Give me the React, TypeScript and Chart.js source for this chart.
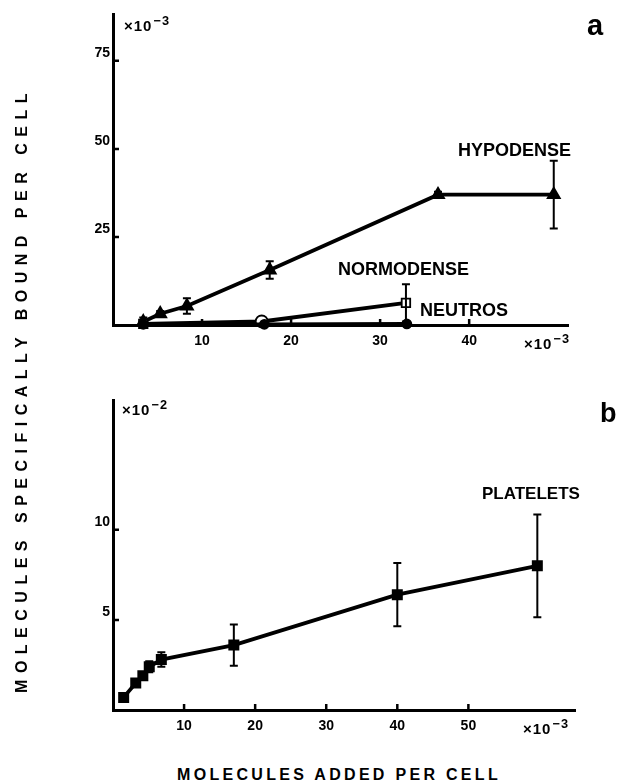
import React, { useEffect, useRef } from "react";
import { Chart, registerables } from "chart.js";
Chart.register(...registerables);

// ---- Data (panel a) ----
const hypoX = [3.4, 5.3, 8.3, 17.6, 36.5, 49.5];
const hypoY = [0.9, 3.2, 5.4, 15.6, 37, 37];
const hypoErr = [1.2, 0.8, 2.2, 2.5, 0.8, 9.6];

const normoX = [3.4, 16.7, 32.9];
const normoY = [0.3, 1.0, 6.3];
const normoErr = [0, 0, 5.3];

const neutroX = [3.4, 17.0, 33.0];
const neutroY = [0.2, 0.2, 0.3];
const neutroErr = [0, 0, 0];

// ---- Data (panel b) ----
const plateletX = [1.5, 3.2, 4.2, 5.1, 6.8, 17, 40, 59.7];
const plateletY = [0.7, 1.5, 1.9, 2.4, 2.8, 3.6, 6.4, 8.0];
const plateletErr = [0.1, 0.15, 0.2, 0.3, 0.4, 1.15, 1.75, 2.85];

// ---- Ticks ----
const topXTicks = [10, 20, 30, 40];
const topYTicks = [25, 50, 75];
const bottomXTicks = [10, 20, 30, 40, 50];
const bottomYTicks = [5, 10];

const FONT = "'Liberation Sans', Arial, Helvetica, sans-serif";

const toPts = (xs: number[], ys: number[]) => xs.map((x, i) => ({ x, y: ys[i] }));

const errorBarPlugin = {
  id: "errbars",
  afterDatasetsDraw(chart: any) {
    const { ctx, scales } = chart;
    const x = scales.x, y = scales.y;
    chart.data.datasets.forEach((ds: any) => {
      if (!ds.errors) return;
      ctx.save();
      ctx.strokeStyle = "#000";
      ctx.lineWidth = 2;
      ds.data.forEach((p: any, i: number) => {
        const e = ds.errors[i];
        if (!e) return;
        const px = x.getPixelForValue(p.x);
        const y1 = y.getPixelForValue(Math.max(p.y - e, y.min));
        const y2 = y.getPixelForValue(p.y + e);
        ctx.beginPath();
        ctx.moveTo(px, y1);
        ctx.lineTo(px, y2);
        ctx.moveTo(px - 4, y2);
        ctx.lineTo(px + 4, y2);
        if (p.y - e > y.min) {
          ctx.moveTo(px - 4, y1);
          ctx.lineTo(px + 4, y1);
        }
        ctx.stroke();
      });
      ctx.restore();
    });
  },
};

const inTickPlugin = {
  id: "inTicks",
  afterDraw(chart: any, _args: any, opts: any) {
    const { ctx, chartArea, scales } = chart;
    const x = scales.x, y = scales.y;
    ctx.save();
    ctx.strokeStyle = "#000";
    ctx.lineWidth = 2.5;
    ctx.beginPath();
    (opts.x || []).forEach((v: number) => {
      const px = x.getPixelForValue(v);
      ctx.moveTo(px, chartArea.bottom);
      ctx.lineTo(px, chartArea.bottom - 6);
    });
    (opts.y || []).forEach((v: number) => {
      const py = y.getPixelForValue(v);
      ctx.moveTo(chartArea.left, py);
      ctx.lineTo(chartArea.left + 6, py);
    });
    ctx.stroke();
    ctx.restore();
  },
};

function makeConfig(
  datasets: any[],
  xMax: number,
  yMax: number,
  xTicks: number[],
  yTicks: number[],
  padding: any,
  xHeight: number
): any {
  const tickFont = { family: FONT, size: 14, weight: "bold" as const };
  return {
    type: "scatter",
    data: { datasets },
    options: {
      responsive: false,
      animation: false,
      devicePixelRatio: 1,
      layout: { padding },
      plugins: {
        legend: { display: false },
        tooltip: { enabled: false },
        title: { display: false },
        inTicks: { x: xTicks, y: yTicks },
      },
      scales: {
        x: {
          type: "linear",
          min: 0,
          max: xMax,
          afterBuildTicks: (s: any) => {
            s.ticks = xTicks.map((v) => ({ value: v }));
          },
          afterFit: (s: any) => {
            s.height = xHeight;
          },
          ticks: {
            color: "#000",
            font: tickFont,
            padding: 8,
            maxRotation: 0,
            autoSkip: false,
            callback: (v: any) => String(v),
          },
          grid: { display: false, drawTicks: false },
          border: { display: true, color: "#000", width: 3 },
        },
        y: {
          type: "linear",
          min: 0,
          max: yMax,
          afterBuildTicks: (s: any) => {
            s.ticks = yTicks.map((v) => ({ value: v }));
          },
          afterFit: (s: any) => {
            s.width = 113;
          },
          ticks: {
            color: "#000",
            font: tickFont,
            padding: 3,
            labelOffset: -8,
            autoSkip: false,
            callback: (v: any) => String(v),
          },
          grid: { display: false, drawTicks: false },
          border: { display: true, color: "#000", width: 3 },
        },
      },
    },
    plugins: [errorBarPlugin, inTickPlugin],
  };
}

const lineBase = {
  showLine: true,
  borderColor: "#000",
  borderWidth: 3.8,
  tension: 0,
  clip: false,
  pointBorderColor: "#000",
  pointBorderWidth: 1.8,
};

export default function App() {
  const topRef = useRef<HTMLCanvasElement>(null);
  const botRef = useRef<HTMLCanvasElement>(null);

  useEffect(() => {
    const topDatasets = [
      {
        ...lineBase,
        label: "NEUTROS",
        data: toPts(neutroX, neutroY),
        errors: neutroErr,
        pointStyle: "circle",
        pointRadius: 4.5,
        pointBackgroundColor: "#000",
      },
      {
        ...lineBase,
        label: "NORMODENSE",
        data: toPts(normoX, normoY),
        errors: normoErr,
        pointStyle: ["rect", "circle", "rect"],
        pointRadius: 6,
        pointBackgroundColor: "#fff",
      },
      {
        ...lineBase,
        label: "HYPODENSE",
        data: toPts(hypoX, hypoY),
        errors: hypoErr,
        pointStyle: "triangle",
        pointRadius: 7,
        pointBackgroundColor: "#000",
      },
    ];
    const botDatasets = [
      {
        ...lineBase,
        label: "PLATELETS",
        data: toPts(plateletX, plateletY),
        errors: plateletErr,
        pointStyle: "rect",
        pointRadius: 6.5,
        pointBackgroundColor: "#000",
      },
    ];
    const c1 = new Chart(
      topRef.current as HTMLCanvasElement,
      makeConfig(topDatasets, 51.1, 88.3, topXTicks, topYTicks, { left: 0, right: 50, top: 14, bottom: 0 }, 35)
    );
    const c2 = new Chart(
      botRef.current as HTMLCanvasElement,
      makeConfig(botDatasets, 65, 17.2, bottomXTicks, bottomYTicks, { left: 0, right: 43, top: 20, bottom: 0 }, 30)
    );
    return () => {
      c1.destroy();
      c2.destroy();
    };
  }, []);

  const txt = (extra: React.CSSProperties): React.CSSProperties => ({
    position: "absolute",
    fontFamily: FONT,
    fontWeight: "bold",
    color: "#000",
    lineHeight: 1,
    whiteSpace: "nowrap",
    ...extra,
  });
  const sup: React.CSSProperties = { fontSize: "0.85em", verticalAlign: "0.45em", marginLeft: 1 };

  return (
    <div style={{ position: "absolute", left: 0, top: 0, width: 618, height: 783, background: "#fff", overflow: "hidden" }}>
      <canvas ref={topRef} width={618} height={360} style={{ position: "absolute", left: 0, top: 0, width: 618, height: 360 }} />
      <canvas ref={botRef} width={618} height={360} style={{ position: "absolute", left: 0, top: 380, width: 618, height: 360 }} />

      {/* multipliers */}
      <div style={txt({ left: 124, top: 15, fontSize: 15, letterSpacing: 1 })}>×10<span style={sup}>−3</span></div>
      <div style={txt({ left: 524, top: 333, fontSize: 15, letterSpacing: 1 })}>×10<span style={sup}>−3</span></div>
      <div style={txt({ left: 122, top: 399, fontSize: 15, letterSpacing: 1 })}>×10<span style={sup}>−2</span></div>
      <div style={txt({ left: 523, top: 718, fontSize: 15, letterSpacing: 1 })}>×10<span style={sup}>−3</span></div>

      {/* series labels */}
      <div style={txt({ left: 458, top: 141, fontSize: 18 })}>HYPODENSE</div>
      <div style={txt({ left: 338, top: 260, fontSize: 18 })}>NORMODENSE</div>
      <div style={txt({ left: 420, top: 301, fontSize: 18 })}>NEUTROS</div>
      <div style={txt({ left: 482, top: 485, fontSize: 17 })}>PLATELETS</div>

      {/* panel letters */}
      <div style={txt({ left: 587, top: 11, fontSize: 29 })}>a</div>
      <div style={txt({ left: 600, top: 400, fontSize: 27 })}>b</div>

      {/* axis titles */}
      <div
        style={txt({
          left: 22 - 350,
          top: 390 - 8,
          width: 700,
          textAlign: "center",
          fontSize: 16,
          letterSpacing: 6.5,
          transform: "rotate(-90deg)",
          transformOrigin: "50% 50%",
        })}
      >
        MOLECULES SPECIFICALLY BOUND PER CELL
      </div>
      <div style={txt({ left: 139, top: 767, width: 400, textAlign: "center", fontSize: 16, letterSpacing: 3.3 })}>
        MOLECULES ADDED PER CELL
      </div>
    </div>
  );
}
